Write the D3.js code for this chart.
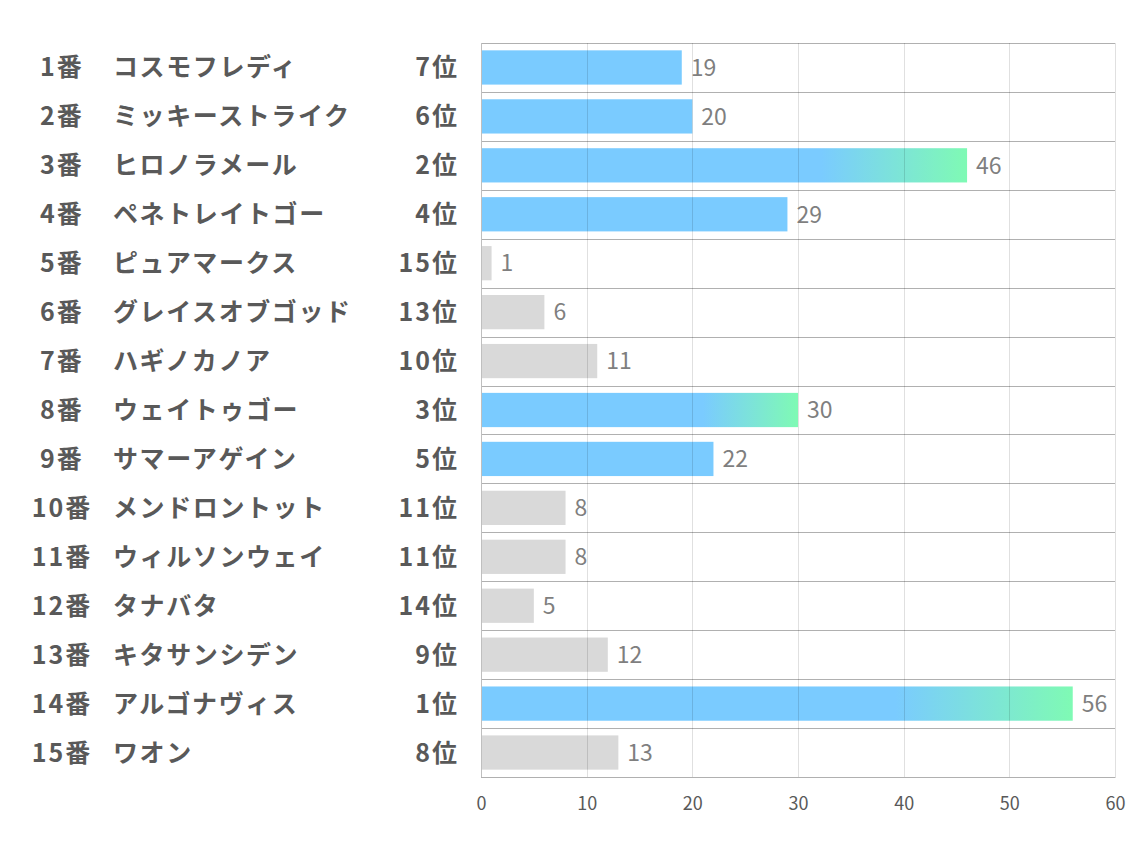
<!DOCTYPE html>
<html lang="ja">
  <head>
    <meta charset="utf-8">
    <title>horse_index</title>
    <script src="https://d3js.org/d3.v7.min.js"></script>
    <style>
      body { margin: 0; background: #fff; }
    </style>
  </head>
  <body>
  <script>

  // data
  var numbers = ["1番","2番","3番","4番","5番","6番","7番","8番","9番","10番","11番","12番","13番","14番","15番"];
  var names = ["コスモフレディ","ミッキーストライク","ヒロノラメール","ペネトレイトゴー","ピュアマークス","グレイスオブゴッド","ハギノカノア","ウェイトゥゴー","サマーアゲイン","メンドロントット","ウィルソンウェイ","タナバタ","キタサンシデン","アルゴナヴィス","ワオン"];
  var ranks = [7, 6, 2, 4, 15, 13, 10, 3, 5, 11, 11, 14, 9, 1, 8];
  var values = [19, 20, 46, 29, 1, 6, 11, 30, 22, 8, 8, 5, 12, 56, 13];
  var xTicks = [0, 10, 20, 30, 40, 50, 60];

  var w = 1134;
  var h = 850;
  var margin = {top: 43, right: 19, bottom: 73, left: 481};
  var innerWidth = w - margin.left - margin.right;
  var innerHeight = h - margin.top - margin.bottom;
  var font = "'Noto Sans CJK JP', 'Noto Sans', sans-serif";

  var svg = d3.select("body")
    .append("svg")
      .attr("width", w)
      .attr("height", h);

  var defs = svg.append("defs");
  var grad = defs.append("linearGradient")
      .attr("id", "topGrad")
      .attr("x1", "0").attr("x2", "1").attr("y1", "0").attr("y2", "0");
  grad.append("stop").attr("offset", "0.7").attr("stop-color", "#7acbff");
  grad.append("stop").attr("offset", "1").attr("stop-color", "#7ffab4");

  var idx = d3.range(values.length);

  var xScale = d3.scaleLinear()
      .domain([0, 60])
      .range([0, innerWidth]);

  var yScale = d3.scaleBand()
      .domain(idx)
      .range([0, innerHeight])
      .paddingInner(0.3)
      .paddingOuter(0.15);

  var step = innerHeight / values.length;

  var g = svg.append("g")
      .attr("transform", `translate(${margin.left}, ${margin.top})`);

  // horizontal row separators
  g.selectAll("line.sep")
    .data(d3.range(values.length + 1))
    .enter().append("line")
      .attr("class", "sep")
      .attr("x1", 0)
      .attr("x2", innerWidth)
      .attr("y1", d => Math.round(d * step) + 0.5)
      .attr("y2", d => Math.round(d * step) + 0.5)
      .attr("stroke", "#b0b0b0")
      .attr("stroke-width", 1);

  function barFill(i) {
    if (ranks[i] <= 3) return "url(#topGrad)";
    if (ranks[i] <= 7) return "#7acbff";
    return "#d9d9d9";
  }

  g.selectAll("rect.bar")
    .data(idx)
    .enter().append("rect")
      .attr("class", "bar")
      .attr("x", 0)
      .attr("y", d => yScale(d))
      .attr("width", d => xScale(values[d]))
      .attr("height", yScale.bandwidth())
      .attr("fill", d => barFill(d));

  // vertical gridlines (drawn over bars, faint)
  g.selectAll("line.grid")
    .data(xTicks.slice(1))
    .enter().append("line")
      .attr("class", "grid")
      .attr("x1", d => Math.round(xScale(d)) + 0.5)
      .attr("x2", d => Math.round(xScale(d)) + 0.5)
      .attr("y1", 0)
      .attr("y2", innerHeight)
      .attr("stroke", "rgba(0,0,0,0.12)")
      .attr("stroke-width", 1);

  // left axis line
  g.append("line")
      .attr("x1", 0.5).attr("x2", 0.5)
      .attr("y1", 0).attr("y2", innerHeight)
      .attr("stroke", "#bfbfbf");

  // value labels
  g.selectAll("text.val")
    .data(idx)
    .enter().append("text")
      .attr("class", "val")
      .attr("x", d => xScale(values[d]) + 9)
      .attr("y", d => yScale(d) + yScale.bandwidth() / 2)
      .attr("dy", "0.36em")
      .attr("font-family", font)
      .attr("font-size", 23)
      .attr("fill", "#7f7f7f")
      .text(d => values[d]);

  // x axis
  var xAxis = d3.axisBottom(xScale)
      .tickValues(xTicks)
      .tickSize(0)
      .tickPadding(20);

  var ax = svg.append("g")
      .attr("transform", `translate(${margin.left}, ${h - margin.bottom})`)
      .call(xAxis);
  ax.select(".domain").attr("stroke", "#b0b0b0");
  ax.selectAll("text")
      .attr("font-family", font)
      .attr("font-size", 18)
      .attr("fill", "#595959");

  // row labels
  var labels = svg.append("g")
      .attr("transform", `translate(0, ${margin.top})`)
      .attr("font-family", font)
      .attr("font-size", 25)
      .attr("font-weight", "bold")
      .attr("fill", "#595959");

  labels.selectAll("text.num")
    .data(idx)
    .enter().append("text")
      .attr("x", 62)
      .attr("y", d => yScale(d) + yScale.bandwidth() / 2)
      .attr("dy", "0.36em")
      .attr("text-anchor", "middle")
      .attr("letter-spacing", "2px")
      .text(d => numbers[d]);

  labels.selectAll("text.name")
    .data(idx)
    .enter().append("text")
      .attr("x", 113)
      .attr("y", d => yScale(d) + yScale.bandwidth() / 2)
      .attr("dy", "0.36em")
      .attr("letter-spacing", "1.6px")
      .text(d => names[d]);

  labels.selectAll("text.rank")
    .data(idx)
    .enter().append("text")
      .attr("x", 459)
      .attr("y", d => yScale(d) + yScale.bandwidth() / 2)
      .attr("dy", "0.36em")
      .attr("text-anchor", "end")
      .attr("letter-spacing", "2px")
      .text(d => ranks[d] + "位");

  </script>
  </body>
</html>
